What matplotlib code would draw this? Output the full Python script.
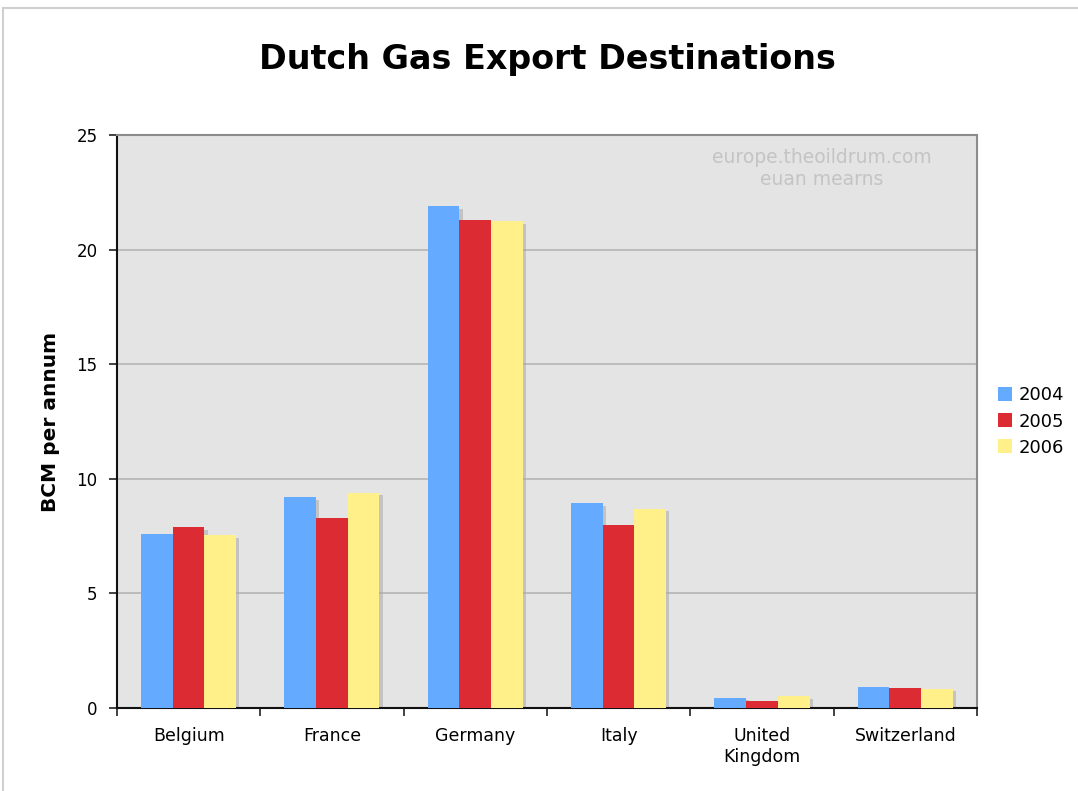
import matplotlib
matplotlib.use('Agg')
import matplotlib.pyplot as plt
import numpy as np

# data (BCM per annum)
countries = ["Belgium", "France", "Germany", "Italy", "United\nKingdom", "Switzerland"]
years = ["2004", "2005", "2006"]
v2004 = [7.6, 9.2, 21.9, 8.95, 0.45, 0.93]
v2005 = [7.9, 8.3, 21.3, 8.0, 0.32, 0.87]
v2006 = [7.55, 9.4, 21.25, 8.7, 0.52, 0.85]
colors = ["#64aaff", "#dc2b32", "#fff08a"]

fig = plt.figure(figsize=(10.78, 7.91), dpi=100)
ax = fig.add_axes([0.1085, 0.1049, 0.7978, 0.7244])
ax.set_facecolor("#e4e4e4")

x = np.arange(len(countries))
w = 0.221
for i, (vals, c, lab) in enumerate(zip([v2004, v2005, v2006], colors, years)):
    pos = x + (i - 1) * w
    # soft shadow on the right side of each bar
    ax.bar(pos + 0.022, np.array(vals) - 0.12, w, color="#a8a8a8", alpha=0.55,
           zorder=2, linewidth=0)
    ax.bar(pos, vals, w, color=c, label=lab, zorder=3, linewidth=0)

ax.set_xlim(-0.5, len(countries) - 0.5)
ax.set_ylim(0, 25)
ax.set_yticks([0, 5, 10, 15, 20, 25])
ax.yaxis.grid(True, color="#b4b4b4", linewidth=1.2, zorder=1)
ax.set_axisbelow(True)

ax.set_xticks(x)
ax.set_xticklabels(countries, fontsize=12.5)
ax.set_xticks(np.arange(len(countries) + 1) - 0.5, minor=True)
ax.tick_params(axis="x", which="major", length=0, pad=14)
ax.tick_params(axis="x", which="minor", length=6, width=1.2, direction="out", color="#222222")
ax.tick_params(axis="y", length=6, width=1.2, labelsize=12, color="#222222", pad=8)

for s in ["left", "bottom"]:
    ax.spines[s].set_color("#111111")
    ax.spines[s].set_linewidth(1.5)
ax.spines["top"].set_color("#8c8c8c")
ax.spines["top"].set_linewidth(1.5)
ax.spines["right"].set_color("#8c8c8c")
ax.spines["right"].set_linewidth(1.5)

ax.set_ylabel("BCM per annum", fontsize=14.5, fontweight="bold", labelpad=12)

ax.text(0.82, 0.978, "europe.theoildrum.com\neuan mearns", transform=ax.transAxes,
        ha="center", va="top", fontsize=13.5, color="#c4c4c4", linespacing=1.25)

fig.text(0.508, 0.925, "Dutch Gas Export Destinations", ha="center", va="center",
         fontsize=24, fontweight="bold")

leg = ax.legend(loc="center left", bbox_to_anchor=(1.005, 0.5), frameon=False,
                fontsize=13, handlelength=0.8, handleheight=0.8,
                handletextpad=0.35, labelspacing=0.45)

# light frame around the chart
fig.add_artist(plt.Line2D([0.003, 1.0], [0.99, 0.99], transform=fig.transFigure,
                          color="#d0d0d0", linewidth=1.5))
fig.add_artist(plt.Line2D([0.003, 0.003], [0.0, 0.99], transform=fig.transFigure,
                          color="#d0d0d0", linewidth=1.5))

plt.savefig("out.png", dpi=100)
plt.close()
